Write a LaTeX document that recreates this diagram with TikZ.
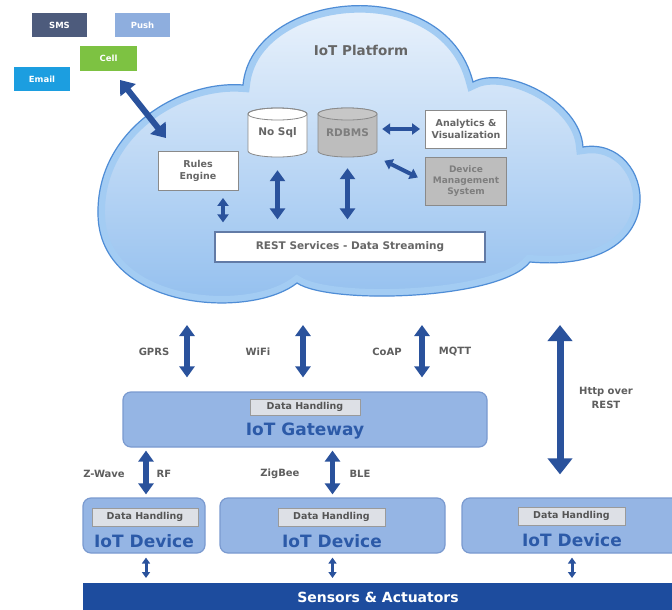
\documentclass[tikz,border=0pt]{standalone}
\usepackage{fontspec}
\setmainfont{DejaVu Sans}
\usetikzlibrary{arrows.meta}
\definecolor{abl}{HTML}{2A529C}
\definecolor{smsc}{HTML}{4D5B7C}
\definecolor{pushc}{HTML}{8EAEDE}
\definecolor{cellc}{HTML}{7DC242}
\definecolor{emailc}{HTML}{1C9EE0}
\definecolor{boxline}{HTML}{8A8A8A}
\definecolor{txtgray}{HTML}{666666}
\definecolor{lblgray}{HTML}{5E5E5E}
\definecolor{iotfill}{HTML}{95B5E4}
\definecolor{iotline}{HTML}{7A9AD0}
\definecolor{iotblue}{HTML}{2C5AA8}
\definecolor{dhfill}{HTML}{DDE0E6}
\definecolor{dhline}{HTML}{9A9A9A}
\definecolor{dhtext}{HTML}{555555}
\definecolor{cloudtop}{HTML}{F4F8FD}
\definecolor{cloudmid}{HTML}{D9E8F8}
\definecolor{cloudbot}{HTML}{8FBDEE}
\definecolor{cloudband}{HTML}{A3CCF3}
\definecolor{cloudedge}{HTML}{4F8DD6}
\definecolor{sensc}{HTML}{1D4C9E}
\definecolor{grayfill}{HTML}{BDBDBD}
\definecolor{graytext}{HTML}{7E7E7E}
\newcommand\fsz[2]{\fontsize{#1}{#2}\selectfont}
\newcommand\cloudpath{(243,85) .. controls (252,-10) and (445,-30) .. (473,82)
  .. controls (505,65) and (580,100) .. (583,147)
  .. controls (655,135) and (680,275) .. (530,262)
  .. controls (500,300) and (330,305) .. (297,283)
  .. controls (250,320) and (100,310) .. (98,215)
  .. controls (96,130) and (180,80) .. (243,85) -- cycle}
\tikzset{
  notif/.style={minimum width=55pt, minimum height=24pt, inner sep=0pt, text=white, font=\fsz{8.5}{10}\bfseries},
  wbox/.style={draw=boxline, line width=0.9pt, fill=white, inner sep=0pt, align=center, text=txtgray, font=\fsz{9.5}{11.5}\bfseries},
  lbl/.style={text=lblgray, font=\fsz{10}{13.5}\bfseries, inner sep=0pt, align=center},
  iotbox/.style={draw=iotline, fill=iotfill, rounded corners=8pt, line width=1.2pt, inner sep=0pt},
  dhbox/.style={draw=dhline, fill=dhfill, line width=0.8pt, inner sep=0pt, minimum width=107pt, minimum height=17pt, text=dhtext, font=\fsz{9.5}{11}\bfseries},
  iott/.style={text=iotblue, font=\fsz{17}{20}\bfseries, inner sep=0pt},
  dblL/.style={draw=abl, line width=5.5pt, {Triangle[width=15pt,length=11pt]}-{Triangle[width=15pt,length=11pt]}},
  dblC/.style={draw=abl, line width=6pt, {Triangle[width=19pt,length=13pt]}-{Triangle[width=19pt,length=13pt]}},
  dblH/.style={draw=abl, line width=7pt, {Triangle[width=24pt,length=16pt]}-{Triangle[width=24pt,length=16pt]}},
  dblM/.style={draw=abl, line width=4pt, {Triangle[width=11pt,length=8pt]}-{Triangle[width=11pt,length=8pt]}},
  dblS/.style={draw=abl, line width=3pt, {Triangle[width=8pt,length=6pt]}-{Triangle[width=8pt,length=6pt]}},
}
\begin{document}
\begin{tikzpicture}[x=1pt, y=-1pt]
\useasboundingbox (0,0) rectangle (672,610);
\fill[white] (0,0) rectangle (672,610);

% cloud
\shade[top color=cloudtop, middle color=cloudmid, bottom color=cloudbot] \cloudpath;
\begin{scope}
  \clip \cloudpath;
  \draw[cloudband, line width=14pt] \cloudpath;
\end{scope}
\draw[cloudedge, line width=1.2pt] \cloudpath;

\node[text=txtgray, font=\fsz{13.5}{16}\bfseries] (plat) at (361,50) {IoT Platform};

% notification boxes
\node[notif, fill=smsc] (sms) at (59.5,25) {SMS};
\node[notif, fill=pushc] (push) at (142.5,25) {Push};
\node[notif, fill=cellc, minimum width=57pt, minimum height=25pt] (cell) at (108.5,58.5) {Cell};
\node[notif, fill=emailc, minimum width=56pt] (email) at (42,79) {Email};

% cylinders
\filldraw[fill=white, draw=boxline, line width=0.8pt] (248,114) -- (248,151)
  arc[start angle=180, end angle=0, x radius=29.5, y radius=6] -- (307,114)
  arc[start angle=0, end angle=-180, x radius=29.5, y radius=6] -- cycle;
\draw[boxline, line width=0.8pt] (277.5,114) ellipse[x radius=29.5, y radius=6];
\filldraw[fill=grayfill, draw=boxline, line width=0.8pt] (318,114) -- (318,151)
  arc[start angle=180, end angle=0, x radius=29.5, y radius=6] -- (377,114)
  arc[start angle=0, end angle=-180, x radius=29.5, y radius=6] -- cycle;
\filldraw[fill=grayfill!85!white, draw=boxline, line width=0.8pt] (347.5,114) ellipse[x radius=29.5, y radius=6];
\node[inner sep=0pt, minimum width=59pt, minimum height=49pt, text=txtgray, font=\fsz{10.5}{12}\bfseries] (nosql) at (277.5,132.5) {\raisebox{-3pt}{No Sql}};
\node[inner sep=0pt, minimum width=59pt, minimum height=49pt, text=graytext, font=\fsz{10.5}{12}\bfseries] (rdbms) at (347.5,132.5) {\raisebox{-3pt}{RDBMS}};

% cloud boxes
\node[wbox, minimum width=81pt, minimum height=38pt] (analytics) at (466,129) {Analytics \&\\Visualization};
\node[wbox, fill=grayfill, text=graytext, minimum width=81pt, minimum height=48pt, font=\fsz{9}{10.7}\bfseries] (dms) at (466,181) {Device\\Management\\System};
\node[wbox, minimum width=80pt, minimum height=39pt, font=\fsz{9.5}{11.5}\bfseries] (rules) at (198,171) {Rules\\Engine};
\node[wbox, draw=iotline!80!black, line width=1.2pt, minimum width=270pt, minimum height=30pt, font=\fsz{10.5}{12}\bfseries] (rest) at (350,247) {REST Services - Data Streaming};

% arrows inside cloud
\coordinate (ca) at (120,80);
\coordinate (cb) at (166,138);
\draw[dblC] (ca) -- (cb);
\draw[dblL, shorten <=13pt, shorten >=12pt] (nosql.south) -- (nosql.south |- rest.north);
\draw[dblL, shorten <=11pt, shorten >=12pt] (rdbms.south) -- (rdbms.south |- rest.north);
\coordinate (rx) at (223,0);
\draw[dblM, shorten <=7pt, shorten >=9pt] (rules.south -| rx) -- (rest.north -| rx);
\draw[dblM, shorten <=5pt, shorten >=5pt] (analytics.west -| rdbms.east) -- (analytics.west);
\draw[dblM, shorten <=8pt, shorten >=8pt] (rdbms.south east) -- (dms.west);

% gateway
\node[iotbox, minimum width=364pt, minimum height=55pt] (gw) at (305,419.5) {};
\node[dhbox, minimum width=110pt, minimum height=16pt] (gwdh) at (305,407) {Data Handling};
\node[iott] (gwt) at (305,431) {IoT Gateway};

% devices
\node[iotbox, minimum width=122pt, minimum height=55pt] (dev1) at (144,525.5) {};
\node[dhbox, minimum width=106pt, minimum height=18pt] (dev1dh) at (145,517) {Data Handling};
\node[iott] (dev1t) at (144,541) {IoT Device};
\node[iotbox, minimum width=225pt, minimum height=55pt] (dev2) at (332.5,525.5) {};
\node[dhbox, minimum width=107pt, minimum height=18pt] (dev2dh) at (331.5,517) {Data Handling};
\node[iott] (dev2t) at (332,541) {IoT Device};
\node[iotbox, minimum width=220pt, minimum height=55pt] (dev3) at (572,525.5) {};
\node[dhbox, minimum width=107pt, minimum height=18pt] (dev3dh) at (571.5,516) {Data Handling};
\node[iott] (dev3t) at (572,540) {IoT Device};

% sensors bar
\fill[sensc] (83,583) rectangle (690,620);
\node[text=white, font=\fsz{14}{16}\bfseries, inner sep=0pt] (sens) at (378,597) {Sensors \& Actuators};
\coordinate (sensn) at (378,583);

% links cloud -> gateway
\coordinate (c1) at (187,325);
\coordinate (c2) at (303,325);
\coordinate (c3) at (422,325);
\coordinate (c4) at (560,325);
\draw[dblL, shorten >=14pt] (c1) -- (c1 |- gw.north);
\draw[dblL, shorten >=14pt] (c2) -- (c2 |- gw.north);
\draw[dblL, shorten >=14pt] (c3) -- (c3 |- gw.north);
\draw[dblH, shorten >=23pt] (c4) -- (c4 |- dev3.north);
\node[lbl] (gprs) at (154,352) {GPRS};
\node[lbl] (wifi) at (258,352) {WiFi};
\node[lbl] (coap) at (387,352) {CoAP};
\node[lbl] (mqtt) at (455,352) {MQTT};
\node[lbl] (http) at (606,398) {Http over\\REST};

% gateway -> devices
\coordinate (d1x) at (146,0);
\draw[dblL, shorten <=3pt, shorten >=3pt] (gw.south -| d1x) -- (dev1.north -| d1x);
\draw[dblL, shorten <=3pt, shorten >=3pt] (gw.south -| dev2.north) -- (dev2.north);
\node[lbl] (zwave) at (104,474) {Z-Wave};
\node[lbl] (rf) at (164,474) {RF};
\node[lbl] (zigbee) at (280,474) {ZigBee};
\node[lbl] (ble) at (360,474) {BLE};

% devices -> sensors
\draw[dblS, shorten <=4pt, shorten >=5pt] (dev1.south -| d1x) -- (sensn -| d1x);
\draw[dblS, shorten <=4pt, shorten >=5pt] (dev2.south) -- (sensn -| dev2.south);
\draw[dblS, shorten <=4pt, shorten >=5pt] (dev3.south) -- (sensn -| dev3.south);
\end{tikzpicture}
\end{document}
